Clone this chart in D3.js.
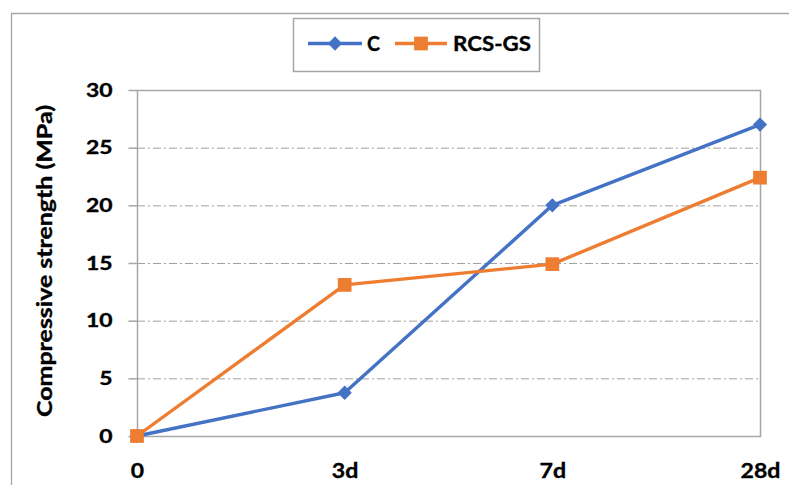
<!DOCTYPE html>
<html>
<head>
<meta charset="utf-8">
<script src="https://cdn.jsdelivr.net/npm/d3@7/dist/d3.min.js"></script>
<style>
  html, body { margin: 0; padding: 0; background: #fff; }
  svg { display: block; }
  text { font-family: Lato, "Open Sans", sans-serif; font-weight: bold; fill: #000; stroke: #000; stroke-width: 0.35px; }
</style>
</head>
<body>
<svg id="chart" width="789" height="485"></svg>
<script>
// Curing ages and compressive strength results (MPa)
const ages = ["0", "3d", "7d", "28d"];
const seriesNames = ["C", "RCS-GS"];
const valuesC = [0, 3.75, 20.0, 27.0];
const valuesRCS = [0, 13.1, 14.9, 22.4];
const yTicks = [0, 5, 10, 15, 20, 25, 30];

const colors = { "C": "#4472C4", "RCS-GS": "#ED7D31" };
const series = [
  { name: seriesNames[0], values: valuesC, shape: d3.symbolDiamond2, size: 130 },
  { name: seriesNames[1], values: valuesRCS, shape: d3.symbolSquare2, size: 240 }
];

const svg = d3.select("#chart");
const plot = { left: 137, right: 760, top: 90, bottom: 436 };

// Outer chart frame (only the top and left edges fall inside the view)
svg.append("path")
  .attr("d", "M11.5,485 V13.5 H789")
  .attr("fill", "none").attr("stroke", "#a6a6a6").attr("stroke-width", 1.3);

const x = d3.scalePoint().domain(ages).range([plot.left, plot.right]);
const y = d3.scaleLinear().domain([0, 30]).range([plot.bottom, plot.top]);

// Dash-dot gridlines
svg.append("g").selectAll("line")
  .data(yTicks.filter(t => t > 0 && t < 30))
  .join("line")
  .attr("x1", plot.left).attr("x2", plot.right)
  .attr("y1", d => y(d) + 0.5).attr("y2", d => y(d) + 0.5)
  .attr("stroke", "#a0a0a0").attr("stroke-width", 1)
  .attr("stroke-dasharray", "8,3,2,3");

// Plot area frame
svg.append("rect")
  .attr("x", plot.left + 0.5).attr("y", plot.top + 0.5)
  .attr("width", plot.right - plot.left).attr("height", plot.bottom - plot.top)
  .attr("fill", "none").attr("stroke", "#a6a6a6").attr("stroke-width", 1.5);

// Y axis
const yAxis = d3.axisLeft(y).tickValues(yTicks).tickSize(9).tickPadding(16);
const gy = svg.append("g").attr("transform", `translate(${plot.left + 0.5},0)`).call(yAxis);
gy.select(".domain").remove();
gy.selectAll(".tick line").attr("stroke", "#a6a6a6").attr("stroke-width", 1.5);
gy.selectAll(".tick text")
  .style("font-size", "19px").style("font-family", "Lato, sans-serif").style("font-weight", "bold")
  .attr("fill", "#000")
  .attr("textLength", d => String(d).length * 13.3)
  .attr("lengthAdjust", "spacingAndGlyphs");

// X axis labels
const xAxis = d3.axisBottom(x).tickSize(0).tickPadding(27);
const gx = svg.append("g").attr("transform", `translate(0,${plot.bottom})`).call(xAxis);
gx.select(".domain").remove();
gx.selectAll(".tick text")
  .style("font-size", "21px").style("font-family", "Lato, sans-serif").style("font-weight", "bold")
  .attr("fill", "#000")
  .attr("textLength", d => d.length * 13.3)
  .attr("lengthAdjust", "spacingAndGlyphs");

// Y axis title
svg.append("text")
  .attr("transform", `translate(52,${(plot.top + plot.bottom) / 2 - 2}) rotate(-90)`)
  .attr("text-anchor", "middle")
  .attr("textLength", 312)
  .attr("lengthAdjust", "spacingAndGlyphs")
  .style("font-size", "20px")
  .text("Compressive strength (MPa)");

// Series lines and markers
const line = d3.line().x((d, i) => x(ages[i])).y(d => y(d));
series.forEach(s => {
  svg.append("path")
    .datum(s.values)
    .attr("d", line)
    .attr("fill", "none")
    .attr("stroke", colors[s.name])
    .attr("stroke-width", 3.4)
    .attr("stroke-linejoin", "round");
  svg.append("g").selectAll("path")
    .data(s.values)
    .join("path")
    .attr("transform", (d, i) => `translate(${x(ages[i])},${y(d)})`)
    .attr("d", d3.symbol().type(s.shape).size(s.size))
    .attr("fill", colors[s.name]);
});

// Legend
const legend = svg.append("g");
legend.append("rect")
  .attr("x", 293.5).attr("y", 18.5).attr("width", 246).attr("height", 53)
  .attr("fill", "#fff").attr("stroke", "#a6a6a6").attr("stroke-width", 1.5);
const legendItems = [
  { s: series[0], x0: 308, x1: 362, tx: 367, len: 13 },
  { s: series[1], x0: 395, x1: 447, tx: 453, len: 78 }
];
legendItems.forEach(it => {
  legend.append("line")
    .attr("x1", it.x0).attr("x2", it.x1).attr("y1", 43.5).attr("y2", 43.5)
    .attr("stroke", colors[it.s.name]).attr("stroke-width", 3.4);
  legend.append("path")
    .attr("transform", `translate(${(it.x0 + it.x1) / 2},43.5)`)
    .attr("d", d3.symbol().type(it.s.shape).size(it.s.size))
    .attr("fill", colors[it.s.name]);
  legend.append("text")
    .attr("x", it.tx).attr("y", 51)
    .attr("textLength", it.len)
    .attr("lengthAdjust", "spacingAndGlyphs")
    .style("font-size", "21px")
    .text(it.s.name);
});
</script>
</body>
</html>
